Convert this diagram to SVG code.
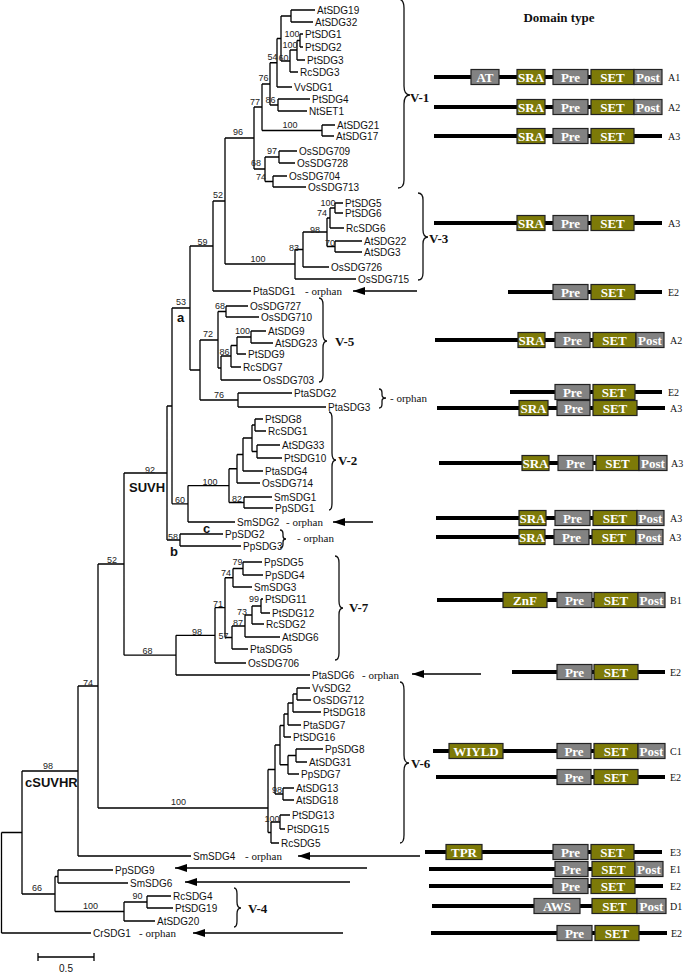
<svg xmlns="http://www.w3.org/2000/svg" width="685" height="974" viewBox="0 0 685 974">
<style>
.br{fill:none;stroke:#000;stroke-width:1.3}
.lf{font-family:"Liberation Sans",Arial,sans-serif;font-size:10px;fill:#111}
.bs{font-family:"Liberation Sans",Arial,sans-serif;font-size:9px;fill:#222;text-anchor:middle}
.cl{font-family:"Liberation Sans",Arial,sans-serif;font-size:13px;font-weight:bold;fill:#111}
.orp{font-family:"Liberation Serif","Times New Roman",serif;font-size:11px;fill:#111}
.grp{font-family:"Liberation Serif","Times New Roman",serif;font-size:13px;font-weight:bold;fill:#111}
.brc{fill:none;stroke:#111;stroke-width:1.3}
.arr{stroke:#000;stroke-width:1.6;marker-end:url(#ah)}
.bb{stroke:#000;stroke-width:4}
.ol{fill:#7d7a08;stroke:#222;stroke-width:1.2}
.gr{fill:#828282;stroke:#222;stroke-width:1.2}
.bt{font-family:"Liberation Serif","Times New Roman",serif;font-size:13px;font-weight:bold;fill:#fff;text-anchor:middle}
.rl{font-family:"Liberation Serif","Times New Roman",serif;font-size:10px;fill:#111}
</style>
<defs>
<marker id="ah" viewBox="0 0 12 8" refX="12" refY="4" markerWidth="12" markerHeight="8" markerUnits="userSpaceOnUse" orient="auto">
<path d="M0,0 L12,4 L0,8 z" fill="#000"/>
</marker>
</defs>
<rect width="685" height="974" fill="#fff"/>

<g id="connectors">
<path class="br" d="M291,10V22M291,10H315M291,22H313 M300,34V47M300,34H303M300,47H303 M297,40.5V60M297,40.5H300M297,60H305 M290,50V72M290,50H297M290,72H298 M281,16V61M281,16H291M281,61H290 M277,38.5V87M277,38.5H281M277,87H292 M278,99V111M278,99H310M278,111H307 M270,62.75V105M270,62.75H277M270,105H278 M322,125V136M322,125H335M322,136H334 M262,84V130.5M262,84H270M262,130.5H322 M279,151V163M279,151H297M279,163H295 M273,176V187M273,176H287M273,187H306 M265,157V181.5M265,157H279M265,181.5H273 M254,107V169M254,107H262M254,169H265"/>
<path class="br" d="M335,203V213M335,203H343M335,213H343 M330,208V228M330,208H335M330,228H344 M335,241V252M335,241H362M335,252H362 M327,218V246.5M327,218H330M327,246.5H335 M303,232V267M303,232H327M303,267H329 M295,249.5V279M295,249.5H303M295,279H356 M225,138V264M225,138H254M225,264H295 M213,201V291M213,201H225M213,291H251"/>
<path class="br" d="M226,306V317M226,306H248M226,317H259 M251,331V343M251,331H266M251,343H273 M237,337V354M237,337H251M237,354H246 M231,345.5V367M231,345.5H237M231,367H241 M221,356V380M221,356H231M221,380H261 M218,311.5V368M218,311.5H226M218,368H221 M238,393V407M238,393H292M238,407H326 M200,340V400M200,340H218M200,400H238 M190,246V370M190,246H213M190,370H200"/>
<path class="br" d="M255,419V431M255,419H263M255,431H266 M257,445V458M257,445H280M257,458H282 M252,425V451.5M252,425H255M252,451.5H257 M243,438V471M243,438H252M243,471H263 M237,454.5V483M237,454.5H243M237,483H260 M244,497V508M244,497H272M244,508H273 M229,468.75V502.5M229,468.75H237M229,502.5H244 M188,485.6V522M188,485.6H229M188,522H235 M172,308V503.8M172,308H190M172,503.8H188 M180,534V546M180,534H223M180,546H241 M167,406V540M167,406H172M167,540H180"/>
<path class="br" d="M243,562V575M243,562H262M243,575H263 M233,568.5V587M233,568.5H243M233,587H252 M261,599V613M261,599H263M261,613H270 M252,606V624M252,606H261M252,624H264 M245,615V637M245,615H252M245,637H280 M232,626V649M232,626H245M232,649H248 M225,577.75V637.5M225,577.75H233M225,637.5H232 M215,607.6V663M215,607.6H225M215,663H246 M176,635.3V675M176,635.3H215M176,675H310 M124,473V655.2M124,473H167M124,655.2H176"/>
<path class="br" d="M297,688V700M297,688H310M297,700H311 M293,694V712M293,694H297M293,712H321 M288,703V725M288,703H293M288,725H301 M284,714V737M284,714H288M284,737H291 M296,749V762M296,749H323M296,762H307 M288,755.5V774M288,755.5H296M288,774H299 M280,725.5V764.75M280,725.5H284M280,764.75H288 M283,788V800M283,788H294M283,800H294 M275,745V794M275,745H280M275,794H283 M280,815V829M280,815H290M280,829H285 M271,822V843M271,822H280M271,843H279 M268,769.5V832.5M268,769.5H275M268,832.5H271"/>
<path class="br" d="M98,564V808M98,564H124M98,808H268 M78,686V856M78,686H98M78,856H191 M58,870V883M58,870H113M58,883H128 M147,896V908M147,896H171M147,908H173 M124,902V921M124,902H147M124,921H155 M55,876.5V911.5M55,876.5H58M55,911.5H124 M22,771V894M22,771H78M22,894H55 M1.5,832.5V933M1.5,832.5H22M1.5,933H91"/>
<line class="arr" x1="417" y1="291" x2="353" y2="291"/>
<line class="arr" x1="373" y1="522" x2="333" y2="522"/>
<line class="arr" x1="481" y1="674" x2="412" y2="674"/>
<line class="arr" x1="420" y1="856" x2="298" y2="856"/>
<line class="arr" x1="367" y1="868" x2="175" y2="868"/>
<line class="arr" x1="350" y1="882" x2="185" y2="882"/>
<line class="arr" x1="343" y1="933" x2="193" y2="933"/>
</g>

<g id="bootstrap">
<text class="bs" x="292" y="37">100</text>
<text class="bs" x="290" y="48">100</text>
<text class="bs" x="283.5" y="61">60</text>
<text class="bs" x="272.5" y="60">54</text>
<text class="bs" x="263.5" y="81">76</text>
<text class="bs" x="270.5" y="103">86</text>
<text class="bs" x="255" y="105">77</text>
<text class="bs" x="290" y="128">100</text>
<text class="bs" x="238" y="135">96</text>
<text class="bs" x="272" y="154">97</text>
<text class="bs" x="256" y="166">68</text>
<text class="bs" x="261" y="180">74</text>
<text class="bs" x="218" y="198">52</text>
<text class="bs" x="328" y="206">100</text>
<text class="bs" x="322" y="216">74</text>
<text class="bs" x="315" y="233">98</text>
<text class="bs" x="330" y="246">70</text>
<text class="bs" x="294" y="251">83</text>
<text class="bs" x="258" y="262">100</text>
<text class="bs" x="202.5" y="245">59</text>
<text class="bs" x="181" y="305">53</text>
<text class="bs" x="220" y="309">68</text>
<text class="bs" x="242.5" y="334">100</text>
<text class="bs" x="208" y="337">72</text>
<text class="bs" x="224.5" y="355">86</text>
<text class="bs" x="219" y="398">76</text>
<text class="bs" x="150" y="473">92</text>
<text class="bs" x="210" y="485">100</text>
<text class="bs" x="237" y="502">82</text>
<text class="bs" x="180" y="503">60</text>
<text class="bs" x="173" y="540">58</text>
<text class="bs" x="237.5" y="565">79</text>
<text class="bs" x="226" y="576">74</text>
<text class="bs" x="218" y="607">71</text>
<text class="bs" x="254" y="602">99</text>
<text class="bs" x="242" y="615">73</text>
<text class="bs" x="238" y="626">87</text>
<text class="bs" x="223.5" y="639">57</text>
<text class="bs" x="197" y="635">98</text>
<text class="bs" x="147.5" y="654">68</text>
<text class="bs" x="112" y="563">52</text>
<text class="bs" x="88" y="686">74</text>
<text class="bs" x="178.5" y="805">100</text>
<text class="bs" x="277" y="793">98</text>
<text class="bs" x="272" y="822">100</text>
<text class="bs" x="48" y="769">98</text>
<text class="bs" x="37" y="891">66</text>
<text class="bs" x="90.5" y="909">100</text>
<text class="bs" x="137.5" y="899">90</text>
</g>

<g id="clade-labels">
<text class="cl" x="177" y="322">a</text>
<text class="cl" x="129" y="492">SUVH</text>
<text class="cl" x="170" y="556">b</text>
<text class="cl" x="203" y="533">c</text>
<text class="cl" x="25" y="787">cSUVHR</text>
</g>

<g id="leaves">
<g id="n-AtSDG19"><text class="lf" x="317" y="13.5">AtSDG19</text></g>
<g id="n-AtSDG32"><text class="lf" x="315" y="25.5">AtSDG32</text></g>
<g id="n-PtSDG1"><text class="lf" x="305" y="37.5">PtSDG1</text></g>
<g id="n-PtSDG2"><text class="lf" x="305" y="50.5">PtSDG2</text></g>
<g id="n-PtSDG3"><text class="lf" x="307" y="63.5">PtSDG3</text></g>
<g id="n-RcSDG3"><text class="lf" x="300" y="75.5">RcSDG3</text></g>
<g id="n-VvSDG1"><text class="lf" x="294" y="90.5">VvSDG1</text></g>
<g id="n-PtSDG4"><text class="lf" x="312" y="102.5">PtSDG4</text></g>
<g id="n-NtSET1"><text class="lf" x="309" y="114.5">NtSET1</text></g>
<g id="n-AtSDG21"><text class="lf" x="337" y="128.5">AtSDG21</text></g>
<g id="n-AtSDG17"><text class="lf" x="336" y="139.5">AtSDG17</text></g>
<g id="n-OsSDG709"><text class="lf" x="299" y="154.5">OsSDG709</text></g>
<g id="n-OsSDG728"><text class="lf" x="297" y="166.5">OsSDG728</text></g>
<g id="n-OsSDG704"><text class="lf" x="289" y="179.5">OsSDG704</text></g>
<g id="n-OsSDG713"><text class="lf" x="308" y="190.5">OsSDG713</text></g>
<g id="n-PtSDG5"><text class="lf" x="345" y="206.5">PtSDG5</text></g>
<g id="n-PtSDG6"><text class="lf" x="345" y="216.5">PtSDG6</text></g>
<g id="n-RcSDG6"><text class="lf" x="346" y="231.5">RcSDG6</text></g>
<g id="n-AtSDG22"><text class="lf" x="364" y="244.5">AtSDG22</text></g>
<g id="n-AtSDG3"><text class="lf" x="364" y="255.5">AtSDG3</text></g>
<g id="n-OsSDG726"><text class="lf" x="331" y="270.5">OsSDG726</text></g>
<g id="n-OsSDG715"><text class="lf" x="358" y="282.5">OsSDG715</text></g>
<g id="n-PtaSDG1"><text class="lf" x="253" y="294.5">PtaSDG1</text><text class="orp" x="305" y="294.5">- orphan</text></g>
<g id="n-OsSDG727"><text class="lf" x="250" y="309.5">OsSDG727</text></g>
<g id="n-OsSDG710"><text class="lf" x="261" y="320.5">OsSDG710</text></g>
<g id="n-AtSDG9"><text class="lf" x="268" y="334.5">AtSDG9</text></g>
<g id="n-AtSDG23"><text class="lf" x="275" y="346.5">AtSDG23</text></g>
<g id="n-PtSDG9"><text class="lf" x="248" y="357.5">PtSDG9</text></g>
<g id="n-RcSDG7"><text class="lf" x="243" y="370.5">RcSDG7</text></g>
<g id="n-OsSDG703"><text class="lf" x="263" y="383.5">OsSDG703</text></g>
<g id="n-PtaSDG2"><text class="lf" x="294" y="396.5">PtaSDG2</text></g>
<g id="n-PtaSDG3"><text class="lf" x="328" y="410.5">PtaSDG3</text></g>
<g id="n-PtSDG8"><text class="lf" x="265" y="422.5">PtSDG8</text></g>
<g id="n-RcSDG1"><text class="lf" x="268" y="434.5">RcSDG1</text></g>
<g id="n-AtSDG33"><text class="lf" x="282" y="448.5">AtSDG33</text></g>
<g id="n-PtSDG10"><text class="lf" x="284" y="461.5">PtSDG10</text></g>
<g id="n-PtaSDG4"><text class="lf" x="265" y="474.5">PtaSDG4</text></g>
<g id="n-OsSDG714"><text class="lf" x="262" y="486.5">OsSDG714</text></g>
<g id="n-SmSDG1"><text class="lf" x="274" y="500.5">SmSDG1</text></g>
<g id="n-PpSDG1"><text class="lf" x="275" y="511.5">PpSDG1</text></g>
<g id="n-SmSDG2"><text class="lf" x="237" y="525.5">SmSDG2</text><text class="orp" x="286" y="525.5">- orphan</text></g>
<g id="n-PpSDG2"><text class="lf" x="225" y="537.5">PpSDG2</text></g>
<g id="n-PpSDG3"><text class="lf" x="243" y="549.5">PpSDG3</text></g>
<g id="n-PpSDG5"><text class="lf" x="264" y="565.5">PpSDG5</text></g>
<g id="n-PpSDG4"><text class="lf" x="265" y="578.5">PpSDG4</text></g>
<g id="n-SmSDG3"><text class="lf" x="254" y="590.5">SmSDG3</text></g>
<g id="n-PtSDG11"><text class="lf" x="265" y="602.5">PtSDG11</text></g>
<g id="n-PtSDG12"><text class="lf" x="272" y="616.5">PtSDG12</text></g>
<g id="n-RcSDG2"><text class="lf" x="266" y="627.5">RcSDG2</text></g>
<g id="n-AtSDG6"><text class="lf" x="282" y="640.5">AtSDG6</text></g>
<g id="n-PtaSDG5"><text class="lf" x="250" y="652.5">PtaSDG5</text></g>
<g id="n-OsSDG706"><text class="lf" x="248" y="666.5">OsSDG706</text></g>
<g id="n-PtaSDG6"><text class="lf" x="312" y="678.5">PtaSDG6</text><text class="orp" x="362" y="678.5">- orphan</text></g>
<g id="n-VvSDG2"><text class="lf" x="312" y="691.5">VvSDG2</text></g>
<g id="n-OsSDG712"><text class="lf" x="313" y="703.5">OsSDG712</text></g>
<g id="n-PtSDG18"><text class="lf" x="323" y="715.5">PtSDG18</text></g>
<g id="n-PtaSDG7"><text class="lf" x="303" y="728.5">PtaSDG7</text></g>
<g id="n-PtSDG16"><text class="lf" x="293" y="740.5">PtSDG16</text></g>
<g id="n-PpSDG8"><text class="lf" x="325" y="752.5">PpSDG8</text></g>
<g id="n-AtSDG31"><text class="lf" x="309" y="765.5">AtSDG31</text></g>
<g id="n-PpSDG7"><text class="lf" x="301" y="777.5">PpSDG7</text></g>
<g id="n-AtSDG13"><text class="lf" x="296" y="791.5">AtSDG13</text></g>
<g id="n-AtSDG18"><text class="lf" x="296" y="803.5">AtSDG18</text></g>
<g id="n-PtSDG13"><text class="lf" x="292" y="818.5">PtSDG13</text></g>
<g id="n-PtSDG15"><text class="lf" x="287" y="832.5">PtSDG15</text></g>
<g id="n-RcSDG5"><text class="lf" x="281" y="846.5">RcSDG5</text></g>
<g id="n-SmSDG4"><text class="lf" x="193" y="859.5">SmSDG4</text><text class="orp" x="245" y="859.5">- orphan</text></g>
<g id="n-PpSDG9"><text class="lf" x="115" y="873.5">PpSDG9</text></g>
<g id="n-SmSDG6"><text class="lf" x="130" y="886.5">SmSDG6</text></g>
<g id="n-RcSDG4"><text class="lf" x="173" y="899.5">RcSDG4</text></g>
<g id="n-PtSDG19"><text class="lf" x="175" y="911.5">PtSDG19</text></g>
<g id="n-AtSDG20"><text class="lf" x="157" y="924.5">AtSDG20</text></g>
<g id="n-CrSDG1"><text class="lf" x="93" y="936.5">CrSDG1</text><text class="orp" x="139" y="936.5">- orphan</text></g>
</g>

<g id="braces">
<path class="brc" d="M398,-1 Q404,-1 404,8 V86 Q404,95 410,95 Q404,95 404,104 V180 Q404,188 398,188"/>
<text class="grp" x="410" y="102">V-1</text>
<path class="brc" d="M418,193 Q423,193 423,200 V230 Q423,237 428,237 Q423,237 423,244 V273 Q423,280 418,280"/>
<text class="grp" x="429" y="243">V-3</text>
<path class="brc" d="M319,298 Q323,298 323,305 V334 Q323,341 327,341 Q323,341 323,348 V375 Q323,382 319,382"/>
<text class="grp" x="335" y="346">V-5</text>
<path class="brc" d="M379,389 Q382,389 382,393 V395 Q382,398 386,398 Q382,398 382,401 V404 Q382,408 379,408"/>
<text class="orp" x="390" y="402">- orphan</text>
<path class="brc" d="M329,412 Q332,412 332,419 V453 Q332,460 336,460 Q332,460 332,467 V503 Q332,510 329,510"/>
<text class="grp" x="338" y="465">V-2</text>
<path class="brc" d="M280,530 Q283,530 283,534 V536 Q283,539 286,539 Q283,539 283,542 V544 Q283,548 280,548"/>
<text class="orp" x="297" y="542">- orphan</text>
<path class="brc" d="M335,556 Q339,556 339,563 V601 Q339,608 343,608 Q339,608 339,615 V653 Q339,660 335,660"/>
<text class="grp" x="349" y="612">V-7</text>
<path class="brc" d="M400,682 Q404,682 404,690 V755 Q404,763 409,763 Q404,763 404,771 V835 Q404,843 400,843"/>
<text class="grp" x="411" y="768">V-6</text>
<path class="brc" d="M234,888 Q237,888 237,894 V902 Q237,908 241,908 Q237,908 237,914 V921 Q237,927 234,927"/>
<text class="grp" x="248" y="913">V-4</text>
</g>

<g id="scale">
<path class="br" d="M38,957H94M38,953V961M94,953V961"/>
<text class="lf" x="66" y="972" text-anchor="middle">0.5</text>
</g>

<g id="domains">
<text class="grp" x="559" y="22" text-anchor="middle">Domain type</text>
<g id="row-A1a">
<line class="bb" x1="434" y1="77" x2="662" y2="77"/>
<rect class="gr" x="471" y="69.5" width="28" height="15"/><text class="bt" x="485" y="81.5">AT</text>
<rect class="ol" x="517" y="69.5" width="28" height="15"/><text class="bt" x="531" y="81.5">SRA</text>
<rect class="gr" x="553" y="69.5" width="35" height="15"/><text class="bt" x="570.5" y="81.5">Pre</text>
<rect class="ol" x="591" y="69.5" width="43" height="15"/><text class="bt" x="612.5" y="81.5">SET</text>
<rect class="gr" x="634" y="69.5" width="28" height="15"/><text class="bt" x="648" y="81.5">Post</text>
<text class="rl" x="668" y="80.5">A1</text>
</g>
<g id="row-A2a">
<line class="bb" x1="434" y1="107" x2="662" y2="107"/>
<rect class="ol" x="517" y="99.5" width="28" height="15"/><text class="bt" x="531" y="111.5">SRA</text>
<rect class="gr" x="553" y="99.5" width="35" height="15"/><text class="bt" x="570.5" y="111.5">Pre</text>
<rect class="ol" x="591" y="99.5" width="43" height="15"/><text class="bt" x="612.5" y="111.5">SET</text>
<rect class="gr" x="634" y="99.5" width="28" height="15"/><text class="bt" x="648" y="111.5">Post</text>
<text class="rl" x="668" y="110.5">A2</text>
</g>
<g id="row-A3a">
<line class="bb" x1="434" y1="136" x2="662" y2="136"/>
<rect class="ol" x="517" y="128.5" width="28" height="15"/><text class="bt" x="531" y="140.5">SRA</text>
<rect class="gr" x="553" y="128.5" width="35" height="15"/><text class="bt" x="570.5" y="140.5">Pre</text>
<rect class="ol" x="591" y="128.5" width="43" height="15"/><text class="bt" x="612.5" y="140.5">SET</text>
<text class="rl" x="668" y="139.5">A3</text>
</g>
<g id="row-A3b">
<line class="bb" x1="434" y1="223" x2="662" y2="223"/>
<rect class="ol" x="517" y="215.5" width="28" height="15"/><text class="bt" x="531" y="227.5">SRA</text>
<rect class="gr" x="553" y="215.5" width="35" height="15"/><text class="bt" x="570.5" y="227.5">Pre</text>
<rect class="ol" x="591" y="215.5" width="43" height="15"/><text class="bt" x="612.5" y="227.5">SET</text>
<text class="rl" x="668" y="226.5">A3</text>
</g>
<g id="row-E2a">
<line class="bb" x1="508" y1="292" x2="662" y2="292"/>
<rect class="gr" x="553" y="284.5" width="35" height="15"/><text class="bt" x="570.5" y="296.5">Pre</text>
<rect class="ol" x="591" y="284.5" width="44" height="15"/><text class="bt" x="613" y="296.5">SET</text>
<text class="rl" x="668" y="295.5">E2</text>
</g>
<g id="row-A2b">
<line class="bb" x1="435" y1="340" x2="664" y2="340"/>
<rect class="ol" x="518" y="332.5" width="27" height="15"/><text class="bt" x="531.5" y="344.5">SRA</text>
<rect class="gr" x="555" y="332.5" width="35" height="15"/><text class="bt" x="572.5" y="344.5">Pre</text>
<rect class="ol" x="593" y="332.5" width="43" height="15"/><text class="bt" x="614.5" y="344.5">SET</text>
<rect class="gr" x="636" y="332.5" width="28" height="15"/><text class="bt" x="650" y="344.5">Post</text>
<text class="rl" x="670" y="343.5">A2</text>
</g>
<g id="row-E2b">
<line class="bb" x1="510" y1="392" x2="662" y2="392"/>
<rect class="gr" x="555" y="384.5" width="35" height="15"/><text class="bt" x="572.5" y="396.5">Pre</text>
<rect class="ol" x="593" y="384.5" width="42" height="15"/><text class="bt" x="614" y="396.5">SET</text>
<text class="rl" x="668" y="395.5">E2</text>
</g>
<g id="row-A3c">
<line class="bb" x1="437" y1="408" x2="665" y2="408"/>
<rect class="ol" x="519" y="400.5" width="29" height="15"/><text class="bt" x="533.5" y="412.5">SRA</text>
<rect class="gr" x="557" y="400.5" width="33" height="15"/><text class="bt" x="573.5" y="412.5">Pre</text>
<rect class="ol" x="593" y="400.5" width="44" height="15"/><text class="bt" x="615" y="412.5">SET</text>
<text class="rl" x="670" y="411.5">A3</text>
</g>
<g id="row-A3d">
<line class="bb" x1="439" y1="463" x2="667" y2="463"/>
<rect class="ol" x="522" y="455.5" width="27" height="15"/><text class="bt" x="535.5" y="467.5">SRA</text>
<rect class="gr" x="558" y="455.5" width="35" height="15"/><text class="bt" x="575.5" y="467.5">Pre</text>
<rect class="ol" x="596" y="455.5" width="43" height="15"/><text class="bt" x="617.5" y="467.5">SET</text>
<rect class="gr" x="639" y="455.5" width="28" height="15"/><text class="bt" x="653" y="467.5">Post</text>
<text class="rl" x="671" y="466.5">A3</text>
</g>
<g id="row-A3e">
<line class="bb" x1="436" y1="518" x2="664" y2="518"/>
<rect class="ol" x="519" y="510.5" width="27" height="15"/><text class="bt" x="532.5" y="522.5">SRA</text>
<rect class="gr" x="555" y="510.5" width="35" height="15"/><text class="bt" x="572.5" y="522.5">Pre</text>
<rect class="ol" x="593" y="510.5" width="44" height="15"/><text class="bt" x="615" y="522.5">SET</text>
<rect class="gr" x="637" y="510.5" width="27" height="15"/><text class="bt" x="650.5" y="522.5">Post</text>
<text class="rl" x="670" y="521.5">A3</text>
</g>
<g id="row-A3f">
<line class="bb" x1="436" y1="537" x2="663" y2="537"/>
<rect class="ol" x="519" y="529.5" width="26" height="15"/><text class="bt" x="532" y="541.5">SRA</text>
<rect class="gr" x="554" y="529.5" width="35" height="15"/><text class="bt" x="571.5" y="541.5">Pre</text>
<rect class="ol" x="592" y="529.5" width="44" height="15"/><text class="bt" x="614" y="541.5">SET</text>
<rect class="gr" x="636" y="529.5" width="27" height="15"/><text class="bt" x="649.5" y="541.5">Post</text>
<text class="rl" x="669" y="540.5">A3</text>
</g>
<g id="row-B1">
<line class="bb" x1="437" y1="600" x2="665" y2="600"/>
<rect class="ol" x="503" y="592.5" width="44" height="15"/><text class="bt" x="525" y="604.5">ZnF</text>
<rect class="gr" x="557" y="592.5" width="35" height="15"/><text class="bt" x="574.5" y="604.5">Pre</text>
<rect class="ol" x="594" y="592.5" width="44" height="15"/><text class="bt" x="616" y="604.5">SET</text>
<rect class="gr" x="638" y="592.5" width="27" height="15"/><text class="bt" x="651.5" y="604.5">Post</text>
<text class="rl" x="670" y="603.5">B1</text>
</g>
<g id="row-E2c">
<line class="bb" x1="512" y1="672" x2="665" y2="672"/>
<rect class="gr" x="557" y="664.5" width="35" height="15"/><text class="bt" x="574.5" y="676.5">Pre</text>
<rect class="ol" x="594" y="664.5" width="44" height="15"/><text class="bt" x="616" y="676.5">SET</text>
<text class="rl" x="670" y="675.5">E2</text>
</g>
<g id="row-C1">
<line class="bb" x1="433" y1="751" x2="665" y2="751"/>
<rect class="ol" x="449" y="743.5" width="54" height="15"/><text class="bt" x="476" y="755.5">WIYLD</text>
<rect class="gr" x="557" y="743.5" width="34" height="15"/><text class="bt" x="574" y="755.5">Pre</text>
<rect class="ol" x="594" y="743.5" width="44" height="15"/><text class="bt" x="616" y="755.5">SET</text>
<rect class="gr" x="638" y="743.5" width="27" height="15"/><text class="bt" x="651.5" y="755.5">Post</text>
<text class="rl" x="670" y="754.5">C1</text>
</g>
<g id="row-E2d">
<line class="bb" x1="436" y1="777" x2="665" y2="777"/>
<rect class="gr" x="557" y="769.5" width="34" height="15"/><text class="bt" x="574" y="781.5">Pre</text>
<rect class="ol" x="594" y="769.5" width="44" height="15"/><text class="bt" x="616" y="781.5">SET</text>
<text class="rl" x="670" y="780.5">E2</text>
</g>
<g id="row-E3">
<line class="bb" x1="425" y1="852" x2="662" y2="852"/>
<rect class="ol" x="446" y="844.5" width="36" height="15"/><text class="bt" x="464" y="856.5">TPR</text>
<rect class="gr" x="553" y="844.5" width="35" height="15"/><text class="bt" x="570.5" y="856.5">Pre</text>
<rect class="ol" x="591" y="844.5" width="43" height="15"/><text class="bt" x="612.5" y="856.5">SET</text>
<text class="rl" x="670" y="855.5">E3</text>
</g>
<g id="row-E1">
<line class="bb" x1="429" y1="869" x2="663" y2="869"/>
<rect class="gr" x="555" y="861.5" width="33" height="15"/><text class="bt" x="571.5" y="873.5">Pre</text>
<rect class="ol" x="592" y="861.5" width="43" height="15"/><text class="bt" x="613.5" y="873.5">SET</text>
<rect class="gr" x="635" y="861.5" width="28" height="15"/><text class="bt" x="649" y="873.5">Post</text>
<text class="rl" x="670" y="872.5">E1</text>
</g>
<g id="row-E2e">
<line class="bb" x1="429" y1="886" x2="663" y2="886"/>
<rect class="gr" x="553" y="878.5" width="35" height="15"/><text class="bt" x="570.5" y="890.5">Pre</text>
<rect class="ol" x="591" y="878.5" width="44" height="15"/><text class="bt" x="613" y="890.5">SET</text>
<text class="rl" x="670" y="889.5">E2</text>
</g>
<g id="row-D1">
<line class="bb" x1="432" y1="906" x2="666" y2="906"/>
<rect class="gr" x="534" y="898.5" width="46" height="15"/><text class="bt" x="557" y="910.5">AWS</text>
<rect class="ol" x="592" y="898.5" width="45" height="15"/><text class="bt" x="614.5" y="910.5">SET</text>
<rect class="gr" x="637" y="898.5" width="29" height="15"/><text class="bt" x="651.5" y="910.5">Post</text>
<text class="rl" x="670" y="909.5">D1</text>
</g>
<g id="row-E2f">
<line class="bb" x1="431" y1="933" x2="667" y2="933"/>
<rect class="gr" x="557" y="925.5" width="35" height="15"/><text class="bt" x="574.5" y="937.5">Pre</text>
<rect class="ol" x="595" y="925.5" width="44" height="15"/><text class="bt" x="617" y="937.5">SET</text>
<text class="rl" x="671" y="936.5">E2</text>
</g>
</g>
</svg>
